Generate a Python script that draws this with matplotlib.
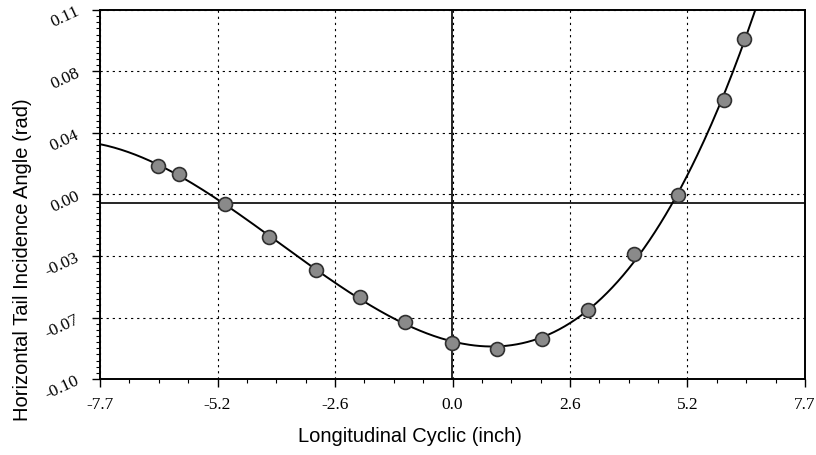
import numpy as np
import matplotlib
matplotlib.use("Agg")
import matplotlib.pyplot as plt
from matplotlib.ticker import FixedLocator, AutoMinorLocator

# data
cyclic = [-6.43, -5.97, -4.97, -4.00, -2.99, -2.01, -1.04, 0.0, 0.98, 1.96, 2.97, 3.97, 4.92, 5.92, 6.37]
angle = [0.0212, 0.0165, -0.0004, -0.0194, -0.0378, -0.0531, -0.0676, -0.0797, -0.0831, -0.0774,
         -0.0607, -0.0289, 0.0047, 0.0588, 0.0933]

x_ticks = np.linspace(-7.7, 7.7, 7)
x_labels = ["-7.7", "-5.2", "-2.6", "0.0", "2.6", "5.2", "7.7"]
y_ticks = np.linspace(-0.10, 0.11, 7)
y_labels = ["-0.10", "-0.07", "-0.03", "0.00", "0.04", "0.08", "0.11"]

fig = plt.figure(figsize=(8.16, 4.55), dpi=100)
ax = fig.add_axes([100/816, 1-379/455, 705/816, 369/455])

# fitted curve through the points
coef = np.polyfit(cyclic, angle, 3)
xs = np.linspace(-7.7, 7.7, 400)
ax.plot(xs, np.polyval(coef, xs), color="black", lw=1.4, zorder=3)
ax.plot(cyclic, angle, "o", ms=10, mfc="#8a8a8a", mec="#303030", mew=1.2, zorder=4)

ax.axhline(0, color="black", lw=1.2, zorder=2)
ax.axvline(0, color="black", lw=1.2, zorder=2)

ax.set_xlim(-7.7, 7.7)
ax.set_ylim(-0.10, 0.11)
ax.xaxis.set_major_locator(FixedLocator(x_ticks))
ax.yaxis.set_major_locator(FixedLocator(y_ticks))
ax.set_xticklabels(x_labels, family="Liberation Serif", fontsize=12.5)
ax.set_yticklabels(y_labels, family="Liberation Serif", fontsize=12.5, rotation=25)
ax.xaxis.set_minor_locator(AutoMinorLocator(4))
ax.yaxis.set_minor_locator(AutoMinorLocator(10))
ax.tick_params(which="major", direction="out", length=6, width=1, pad=7)
ax.tick_params(which="minor", direction="out", length=3, width=0.8)
ax.grid(True, which="major", color="black", lw=0.8, linestyle=(0, (2, 3.5)))

for s in ax.spines.values():
    s.set_linewidth(1.4)

fig.text(0.027, 195/455, "Horizontal Tail Incidence Angle (rad)", rotation=90,
         ha="center", va="center", family="Liberation Sans", fontsize=14.5)
fig.text(410/816, 1-437/455, "Longitudinal Cyclic (inch)", ha="center", va="center",
         family="Liberation Sans", fontsize=14.5)

fig.savefig("out.png", dpi=100)
